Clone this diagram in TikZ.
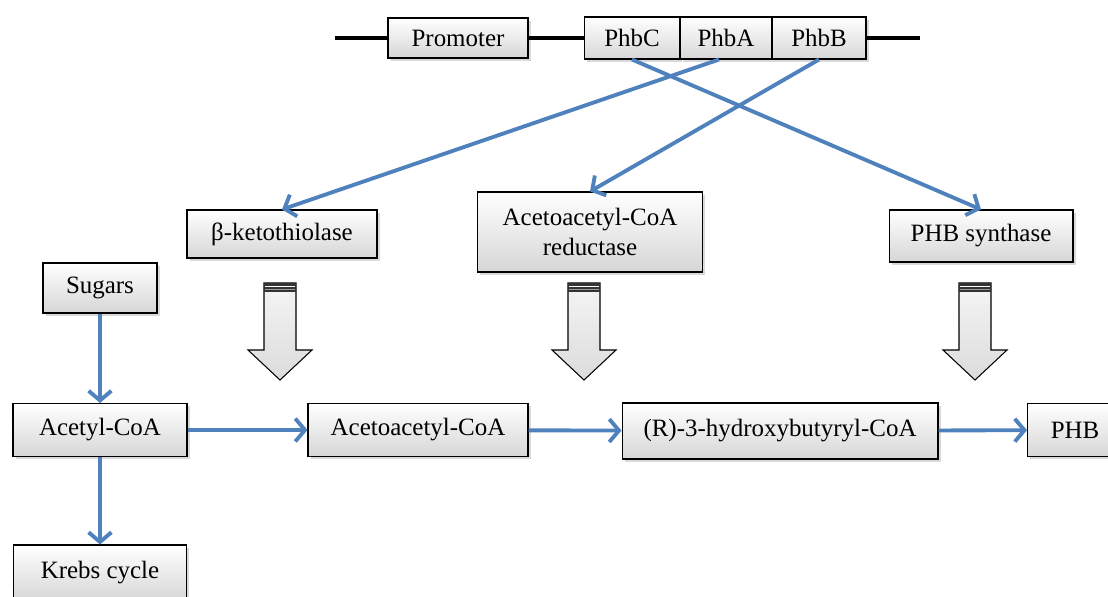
\documentclass[tikz,border=0pt]{standalone}
\usepackage{fontspec}
\setmainfont{Liberation Serif}
\usetikzlibrary{arrows.meta,shadows}
\definecolor{arrowblue}{RGB}{79,129,189}

\begin{document}
\begin{tikzpicture}[x=0.02cm,y=-0.02cm,
    box/.style ={draw, line width=0.6pt, top color=white, bottom color=gray!32,
      drop shadow={opacity=0.3,shadow xshift=1.5pt,shadow yshift=-1.5pt},
      inner sep=0pt, align=center, font=\fontsize{14.2}{17.5}\selectfont},
    flow/.style ={draw=arrowblue, line width=2.2pt,
      -{Straight Barb[length=5.5pt,width=13pt]}}]
   \useasboundingbox (0,0) rectangle (1108,596);
   % operon
   \coordinate (lineL) at (335,38);
   \coordinate (lineR) at (920,38);
   \node[box, minimum width=2.8cm, minimum height=0.8cm] (prom) at (458,38) {Promoter};
   \node[box, minimum width=1.9cm, minimum height=0.84cm] (phbC) at (632,38) {PhbC};
   \node[box, minimum width=1.84cm, minimum height=0.84cm] (phbA) at (726,38) {PhbA};
   \node[box, minimum width=1.88cm, minimum height=0.84cm] (phbB) at (819,38) {PhbB};
   \draw[line width=1.8pt] (lineL) to (prom.west);
   \draw[line width=1.8pt] (prom.east) to (phbC.west);
   \draw[line width=1.8pt] (phbB.east) to (lineR);
   % enzymes
   \node[box, minimum width=3.8cm, minimum height=0.96cm] (keto) at (282,234) {β-ketothiolase};
   \node[box, minimum width=4.5cm, minimum height=1.6cm] (red) at (590,232) {Acetoacetyl-CoA\\reductase};
   \node[box, minimum width=3.68cm, minimum height=1.04cm] (synth) at (981,236) {PHB synthase};
   % pathway
   \node[box, minimum width=2.28cm, minimum height=1cm] (sugar) at (100,288) {Sugars};
   \node[box, minimum width=3.48cm, minimum height=1.06cm] (acetyl) at (100,430) {Acetyl-CoA};
   \node[box, minimum width=4.4cm, minimum height=1.06cm] (aceto) at (418,430) {Acetoacetyl-CoA};
   \node[box, minimum width=6.32cm, minimum height=1.12cm] (hbcoa) at (780,431) {(R)-3-hydroxybutyryl-CoA};
   \node[box, minimum width=1.9cm, minimum height=1.06cm] (phb) at (1075,430) {PHB};
   \node[box, minimum width=3.46cm, minimum height=1.12cm] (krebs) at (100,573) {Krebs cycle};
   % gene to enzyme
   \draw[flow] (phbC.south) to (synth.north);
   \draw[flow] ([xshift=-4pt]phbA.south) to (keto.north);
   \draw[flow] (phbB.south) to (red.north);
   \draw[flow] (sugar) to (acetyl);
   \draw[flow] (acetyl) to (aceto);
   \draw[flow] (aceto) to (hbcoa);
   \draw[flow] (hbcoa) to (phb);
   \draw[flow] (acetyl) to (krebs);
   % big hollow arrows
   \foreach \ax in {280,584,975} {
     \draw[line width=0.6pt, top color=gray!8, bottom color=gray!28]
       (\ax-16,283) -- (\ax+16,283) -- (\ax+16,350) -- (\ax+32,350)
       -- (\ax,380) -- (\ax-32,350) -- (\ax-16,350) -- cycle;
     \fill[gray!40!black] (\ax-16,283) rectangle (\ax+16,292);
     \draw[white, line width=0.8pt] (\ax-15,286.5) -- (\ax+15,286.5);
     \draw[gray!80, line width=0.5pt] (\ax-15,289.5) -- (\ax+15,289.5);
   }
 \end{tikzpicture}
\end{document}
